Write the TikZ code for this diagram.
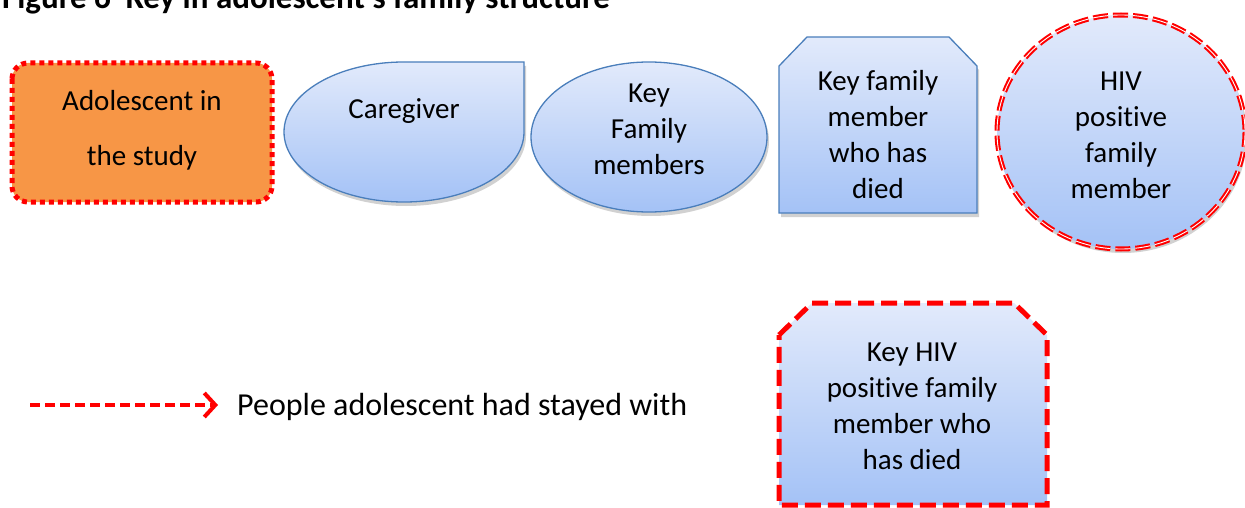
\documentclass[tikz,border=0pt]{standalone}
\usepackage{fontspec}
\setmainfont{Carlito}[Ligatures=NoCommon]
\usetikzlibrary{arrows.meta}
\definecolor{orangefill}{HTML}{F79646}
\definecolor{bluetop}{RGB}{226,234,251}
\definecolor{bluebot}{RGB}{164,194,246}
\definecolor{blueline}{HTML}{4A7EBB}
\definecolor{keyred}{HTML}{FF0000}
\tikzset{
  bluefill/.style={top color=bluetop, bottom color=bluebot},
  blueedge/.style={draw=blueline, line width=1.3pt},
  shadowpath/.style={fill=black, opacity=0.18},
  lbl/.style={font=\fontsize{29}{36}\selectfont, align=center, inner sep=0pt},
  reddash/.style={draw=keyred, line width=5pt, dash pattern=on 16pt off 7pt},
}
\begin{document}
\begin{tikzpicture}[x=1pt,y=-1pt]
\useasboundingbox (0,0) rectangle (1245,508);
% title (clipped at top)
\node[anchor=base west, inner sep=0pt, font=\fontsize{33}{40}\selectfont\bfseries] (title) at (2,9) {Figure 6\ \ Key in adolescent's family structure};

% adolescent box
\draw[rounded corners=16pt, fill=orangefill, draw=keyred, line width=5pt, dash pattern=on 5pt off 4pt] (12,63) rectangle (272,202);
\node[lbl, font=\fontsize{29}{55}\selectfont] (adol) at (142,130) {Adolescent in\\the study};

% caregiver teardrop
\fill[shadowpath] (526,66) -- (526,136) arc[start angle=0,end angle=270,x radius=120,y radius=70] -- cycle;
\path[bluefill, blueedge] (524,62) -- (524,132) arc[start angle=0,end angle=270,x radius=120,y radius=70] -- cycle;
\node[lbl] (care) at (404,111) {Caregiver};

% key family members
\fill[shadowpath] (651,141) ellipse[x radius=118,y radius=75];
\path[bluefill, blueedge] (649,137) ellipse[x radius=118,y radius=75];
\node[lbl] (kfm) at (649,129) {Key\\Family\\members};

% key family member who has died
\fill[shadowpath] (781,70) -- (809,41) -- (951,41) -- (979,70) -- (979,217) -- (781,217) -- cycle;
\path[bluefill, blueedge] (779,66) -- (807,37) -- (949,37) -- (977,66) -- (977,213) -- (779,213) -- cycle;
\node[lbl] (kdied) at (878,135) {Key family\\member\\who has\\died};

% HIV positive family member
\fill[shadowpath] (1123,136) ellipse[x radius=124,y radius=117];
\path[bluefill] (1121,132) ellipse[x radius=124,y radius=117];
\draw[draw=keyred, line width=5pt, dash pattern=on 15pt off 5pt] (1121,132) ellipse[x radius=124,y radius=117];
\draw[draw=white, line width=0.9pt, dash pattern=on 15pt off 5pt] (1121,132) ellipse[x radius=124,y radius=117];
\node[lbl] (hiv) at (1121,135) {HIV\\positive\\family\\member};

% key HIV positive family member who has died
\path[bluefill] (779,335) -- (812,303) -- (1014,303) -- (1047,335) -- (1047,505) -- (779,505) -- cycle;
\draw[reddash] (779,335) -- (812,303) -- (1014,303) -- (1047,335) -- (1047,505) -- (779,505) -- cycle;
\node[lbl] (khdied) at (912,406) {Key HIV\\positive family\\member who\\has died};

% legend
\node[lbl, font=\fontsize{32}{38}\selectfont, anchor=west] (legtext) at (237,407) {People adolescent had stayed with};
\coordinate (legstart) at (30,405);
\draw[draw=keyred, line width=4pt, dash pattern=on 10pt off 5pt, -{Straight Barb[length=11pt,width=24pt,line width=4pt]}] (legstart) -- ([xshift=-19pt,yshift=2pt]legtext.west);
\end{tikzpicture}
\end{document}
